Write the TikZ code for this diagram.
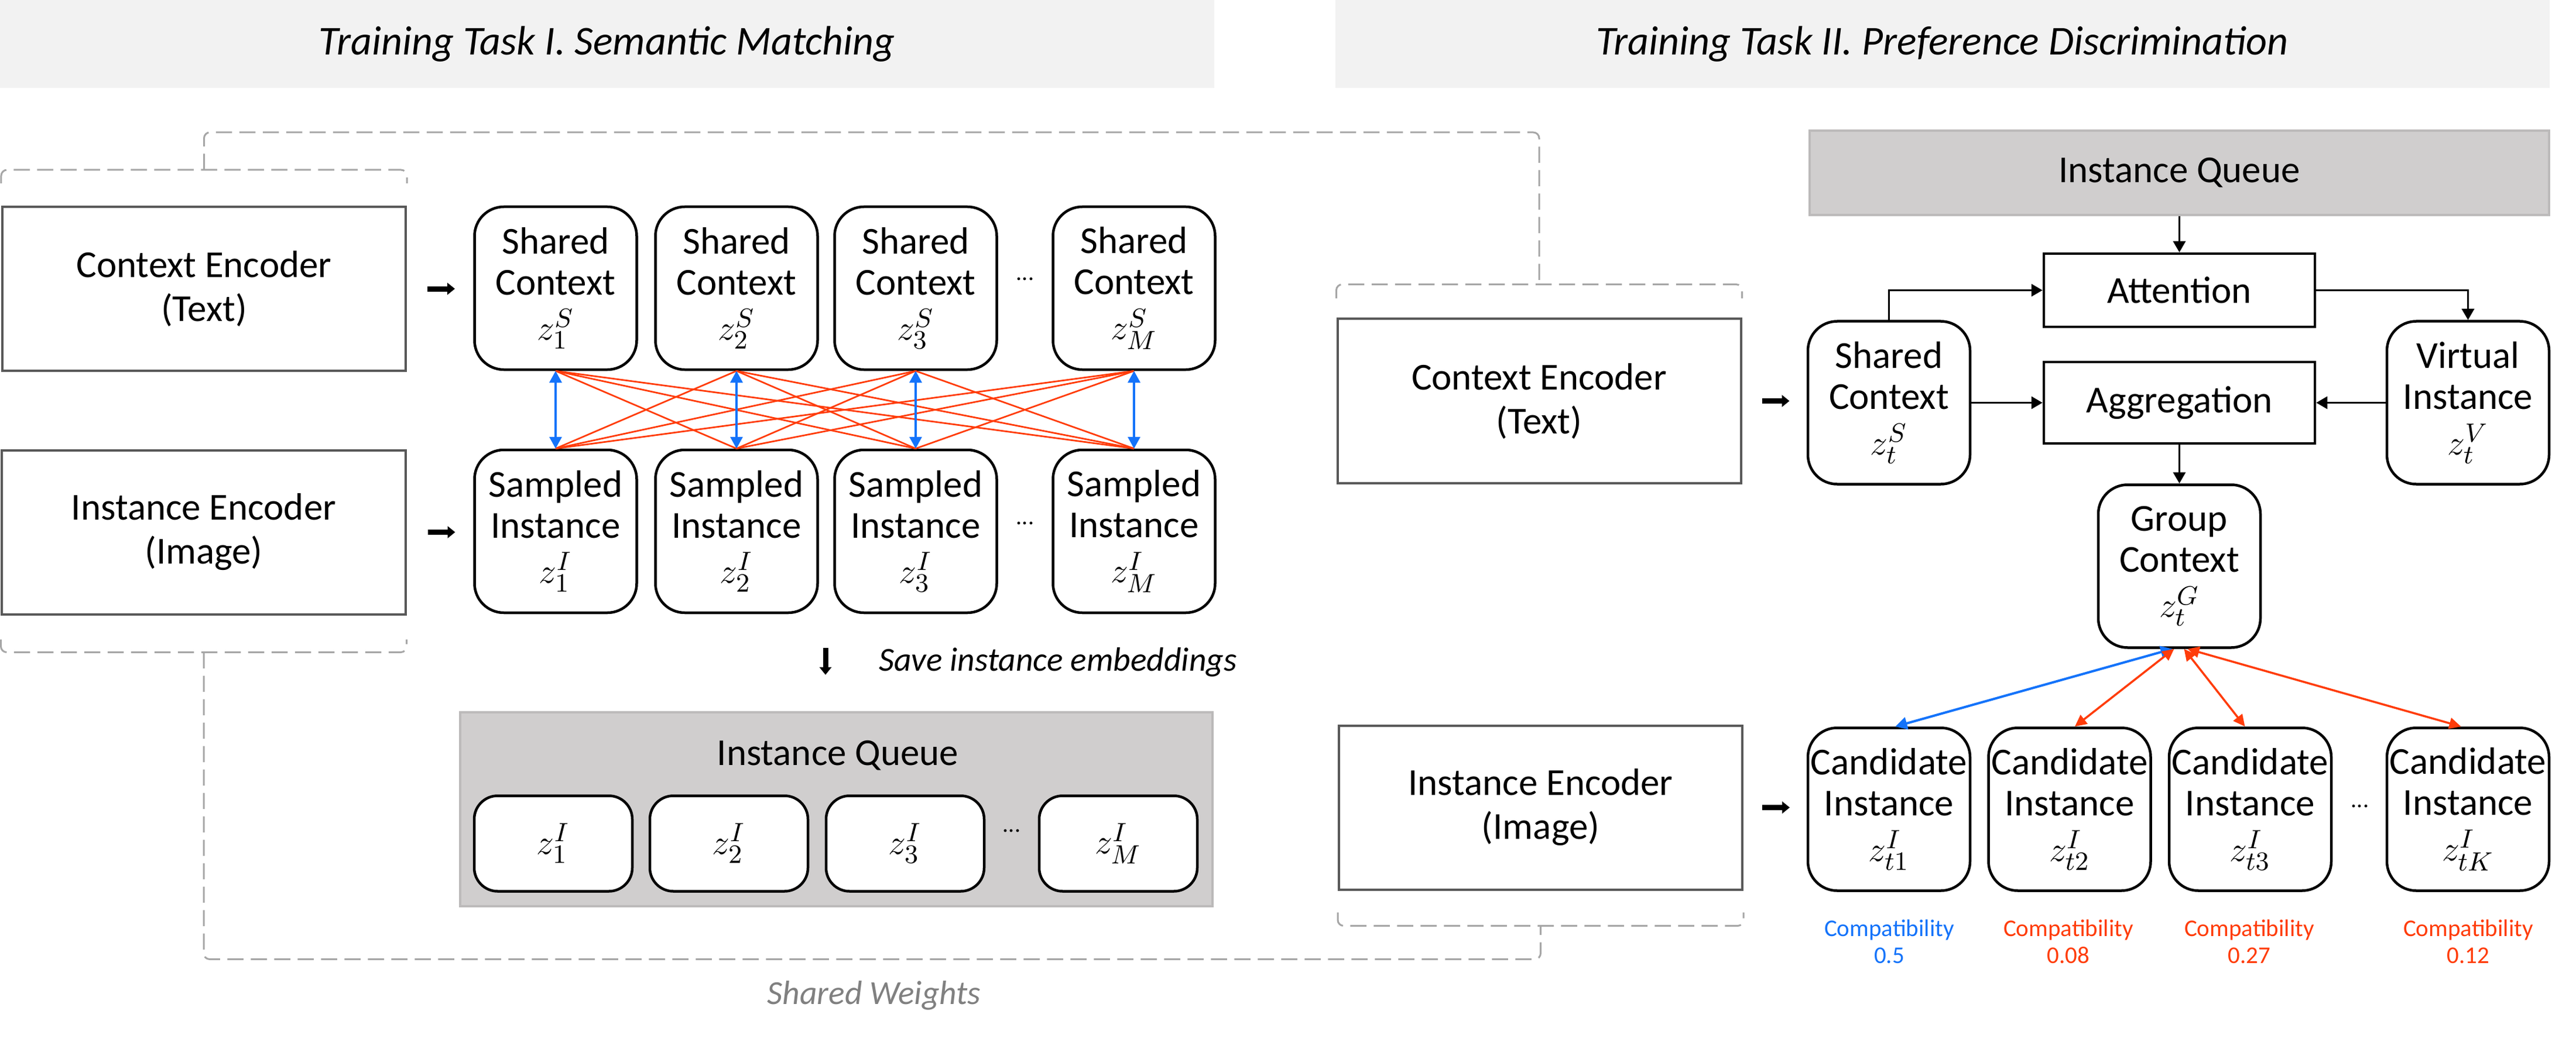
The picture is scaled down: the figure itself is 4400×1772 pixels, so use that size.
\documentclass[tikz,border=0pt]{standalone}
\usepackage{fontspec}
\setmainfont{Carlito}
\usepackage{tikz}
\usetikzlibrary{calc}
\usetikzlibrary{positioning}
\usetikzlibrary{arrows.meta}

\definecolor{titlegray}{RGB}{242,242,242}
\definecolor{queuegray}{RGB}{208,206,206}
\definecolor{queueline}{RGB}{188,186,186}
\definecolor{encline}{RGB}{89,89,89}
\definecolor{weightgray}{RGB}{166,166,166}
\definecolor{weighttext}{RGB}{128,128,128}
\definecolor{matchblue}{RGB}{20,115,250}
\definecolor{mismatchred}{RGB}{255,60,10}

\begin{document}
\begin{tikzpicture}[x=0.2pt,y=-0.2pt,
    every node/.style={font=\fontsize{13}{14}\selectfont, inner sep=0pt, align=center},
    titlebox/.style={fill=titlegray, minimum width=414.8pt, minimum height=30pt, font=\fontsize{14}{16}\selectfont\itshape},
    encoder/.style={draw=encline, line width=0.8pt, minimum width=137.8pt, minimum height=56pt, font=\fontsize{13}{15}\selectfont},
    embed/.style={draw, line width=0.9pt, rounded corners=10pt, minimum width=55.4pt, minimum height=55.6pt},
    slot/.style={draw, line width=0.9pt, fill=white, rounded corners=8pt, minimum width=54pt, minimum height=32.6pt},
    queue/.style={draw=queueline, line width=0.8pt, fill=queuegray},
    block/.style={draw, line width=0.9pt, minimum width=92.6pt},
    flow/.style={line width=0.7pt, -{Triangle[length=3.8pt,width=4.2pt]}},
    fatarrow/.style={line width=1.8pt, -{Triangle[length=2.6pt,width=4pt]}},
    matchlink/.style={matchblue, line width=0.7pt, {Triangle[length=4pt,width=4.2pt]}-{Triangle[length=4pt,width=4.2pt]}},
    mislink/.style={mismatchred, line width=0.55pt},
    misarrow/.style={mismatchred, line width=0.7pt, {Triangle[length=4pt,width=3.8pt]}-{Triangle[length=4pt,width=3.8pt]}},
    weights/.style={weightgray, line width=0.6pt, dash pattern=on 5.5pt off 2.5pt, rounded corners=2pt},
    dots/.style={font=\fontsize{8}{8}\selectfont},
    compat/.style={font=\fontsize{8.2}{9.2}\selectfont},
    note/.style={font=\fontsize{11.5}{13}\selectfont\itshape}
  ]
  \useasboundingbox (0,0) rectangle (4400,1772);

  % Title bars
  \node[titlebox] (title1) at (1037,75) {Training Task I. Semantic Matching};
  \node[titlebox] (title2) at (3317.5,75) {Training Task II. Preference Discrimination};

  %% Task I
  % Encoders
  \node[encoder] (ctxL) at (348.5,493) {Context Encoder\\(Text)};
  \node[encoder] (insL) at (348,908.5) {Instance Encoder\\(Image)};
  \draw[fatarrow] ($(ctxL.east)+(35,0)$) -- ++(47,0);
  \draw[fatarrow] ($(insL.east)+(36,0)$) -- ++(47,0);

  % Shared contexts
  \node[embed] (sh1) at (949,492) {Shared\\Context\\[1.5pt]$z_1^S$};
  \node[embed] (sh2) at (1258,492) {Shared\\Context\\[1.5pt]$z_2^S$};
  \node[embed] (sh3) at (1564,492) {Shared\\Context\\[1.5pt]$z_3^S$};
  \node[embed] (shM) at (1937,492) {Shared\\Context\\[1.5pt]$z_M^S$};
  \node[dots] (shdots) at (1751,476) {...};

  % Sampled instances
  \node[embed] (sa1) at (949,907) {Sampled\\Instance\\[1.5pt]$z_1^I$};
  \node[embed] (sa2) at (1258,907) {Sampled\\Instance\\[1.5pt]$z_2^I$};
  \node[embed] (sa3) at (1564,907) {Sampled\\Instance\\[1.5pt]$z_3^I$};
  \node[embed] (saM) at (1937,907) {Sampled\\Instance\\[1.5pt]$z_M^I$};
  \node[dots] (sadots) at (1751,893) {...};

  % Mismatched pairs
  \draw[mislink] (sh1.south) -- (sa2.north);
  \draw[mislink] (sh1.south) -- (sa3.north);
  \draw[mislink] (sh1.south) -- (saM.north);
  \draw[mislink] (sh2.south) -- (sa1.north);
  \draw[mislink] (sh2.south) -- (sa3.north);
  \draw[mislink] (sh2.south) -- (saM.north);
  \draw[mislink] (sh3.south) -- (sa1.north);
  \draw[mislink] (sh3.south) -- (sa2.north);
  \draw[mislink] (sh3.south) -- (saM.north);
  \draw[mislink] (shM.south) -- (sa1.north);
  \draw[mislink] (shM.south) -- (sa2.north);
  \draw[mislink] (shM.south) -- (sa3.north);
  % Matched pairs
  \draw[matchlink] (sh1.south) -- (sa1.north);
  \draw[matchlink] (sh2.south) -- (sa2.north);
  \draw[matchlink] (sh3.south) -- (sa3.north);
  \draw[matchlink] (shM.south) -- (saM.north);

  % Save to queue
  \draw[fatarrow] (1410,1106) -- (1410,1152);
  \node[note, anchor=west] (save) at (1500,1130) {Save instance embeddings};

  % Instance queue
  \node[queue, minimum width=257pt, minimum height=66.2pt] (lq) at (1428.5,1381.5) {};
  \node (lqtitle) at (1431,1290) {Instance Queue};
  \node[slot] (q1) at (945,1440) {$z_1^I$};
  \node[slot] (q2) at (1245,1440) {$z_2^I$};
  \node[slot] (q3) at (1546,1440) {$z_3^I$};
  \node[slot] (qM) at (1910,1440) {$z_M^I$};
  \node[dots] (qdots) at (1728,1418) {...};

  %% Task II
  \node[queue, minimum width=252.6pt, minimum height=28.8pt] (rq) at (3722.5,295) {Instance Queue};
  \node[block, minimum height=25pt] (attn) at (3722.5,495.5) {Attention};
  \node[encoder] (ctxR) at (2629,684.5) {Context Encoder\\(Text)};
  \node[embed] (shR) at (3226.5,687.5) {Shared\\Context\\[1.5pt]$z_t^S$};
  \node[block, minimum height=27.8pt] (aggr) at (3722.5,687.5) {Aggregation};
  \node[embed] (virt) at (4215.5,687.5) {Virtual\\Instance\\[1.5pt]$z_t^V$};
  \node[embed] (grp) at (3722.5,966.5) {Group\\Context\\[1.5pt]$z_t^G$};
  \draw[fatarrow] ($(ctxR.east)+(34,0)$) -- ++(47,0);

  \draw[flow] (rq.south) -- (attn.north);
  \draw[flow] (shR.north) |- (attn.west);
  \draw[flow] (attn.east) -| (virt.north);
  \draw[flow] (shR.east) -- (aggr.west);
  \draw[flow] (virt.west) -- (aggr.east);
  \draw[flow] (aggr.south) -- (grp.north);

  % Candidates
  \node[encoder] (insR) at (2631.5,1378.5) {Instance Encoder\\(Image)};
  \draw[fatarrow] ($(insR.east)+(32,0)$) -- ++(47,0);
  \node[embed] (c1) at (3226.5,1381.5) {Candidate\\Instance\\[1.5pt]$z_{t1}^I$};
  \node[embed] (c2) at (3535,1381.5) {Candidate\\Instance\\[1.5pt]$z_{t2}^I$};
  \node[embed] (c3) at (3843.5,1381.5) {Candidate\\Instance\\[1.5pt]$z_{t3}^I$};
  \node[embed] (cK) at (4215.5,1381.5) {Candidate\\Instance\\[1.5pt]$z_{tK}^I$};
  \node[dots] (cdots) at (4031,1376) {...};

  \draw[matchlink, line width=0.8pt] ($(grp.south)+(-12,0)$) -- ($(c1.north)+(11,0)$);
  \draw[misarrow] ($(grp.south)+(-9,0)$) -- ($(c2.north)+(9,0)$);
  \draw[misarrow] ($(grp.south)+(8,0)$) -- ($(c3.north)+(-9,0)$);
  \draw[misarrow] ($(grp.south)+(14,0)$) -- ($(cK.north)+(-12,0)$);

  \node[compat, text=matchblue] (k1) at (3227,1607) {Compatibility\\0.5};
  \node[compat, text=mismatchred] (k2) at (3533,1607) {Compatibility\\0.08};
  \node[compat, text=mismatchred] (k3) at (3842,1607) {Compatibility\\0.27};
  \node[compat, text=mismatchred] (kK) at (4216,1607) {Compatibility\\0.12};

  %% Shared weights
  \draw[weights] ($(ctxL.north west)+(0,-38)$) -- ++(0,-23) -| ($(ctxL.north east)+(0,-38)$);
  \draw[weights] ($(ctxL.north)+(0,-61)$) -- ($(ctxL.north)+(0,-125)$) -| ($(ctxR.north)+(0,-57)$);
  \draw[weights] ($(ctxR.north west)+(0,-33)$) -- ++(0,-24) -| ($(ctxR.north east)+(0,-33)$);
  \draw[weights] ($(insL.south west)+(0,41)$) -- ++(0,22) -| ($(insL.south east)+(0,41)$);
  \draw[weights] ($(insL.south)+(0,63)$) -- ($(insL.south)+(0,587)$) -| ($(insR.south)+(0,60)$);
  \draw[weights] ($(insR.south west)+(0,37)$) -- ++(0,23) -| ($(insR.south east)+(0,37)$);
  \node[note, text=weighttext] (sw) at (1493,1699) {Shared Weights};

\end{tikzpicture}
\end{document}
